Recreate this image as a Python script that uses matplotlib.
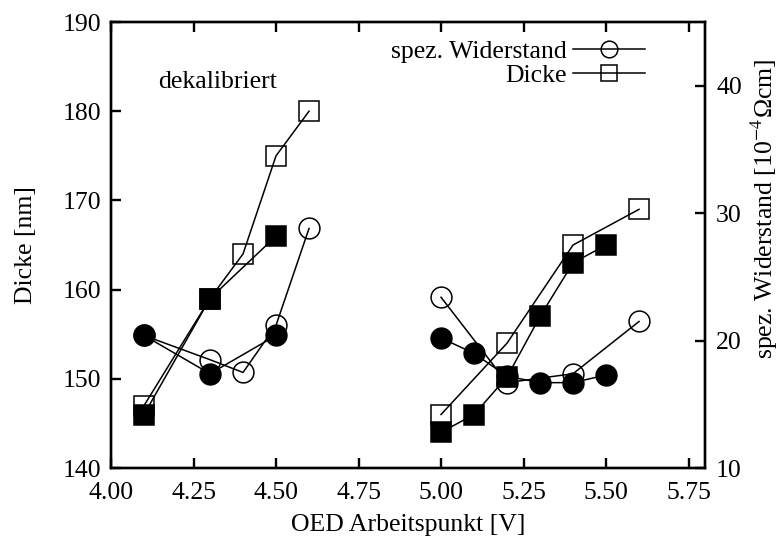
import numpy as np
import matplotlib
matplotlib.use("Agg")
import matplotlib.pyplot as plt
from matplotlib.lines import Line2D

plt.rcParams['font.family'] = ['Liberation Serif', 'DejaVu Serif']
plt.rcParams['mathtext.fontset'] = 'stix'
plt.rcParams['font.size'] = 18.5

# linke Messreihe (dekalibriert)
u_a_open = [4.1, 4.3, 4.4, 4.5, 4.6]
dicke_a_open = [147, 159, 164, 175, 180]
rho_a_open = [20.4, 18.5, 17.5, 21.2, 28.8]

u_a_fill = [4.1, 4.3, 4.5]
dicke_a_fill = [146, 159, 166]
rho_a_fill = [20.4, 17.4, 20.4]

# rechte Messreihe
u_b_open = [5.0, 5.2, 5.4, 5.6]
dicke_b_open = [146, 154, 165, 169]
rho_b_open = [23.4, 16.7, 17.4, 21.5]

u_b_fill = [5.0, 5.1, 5.2, 5.3, 5.4, 5.5]
dicke_b_fill = [144, 146, 150.2, 157, 163, 165]
rho_b_fill = [20.2, 19.0, 17.2, 16.7, 16.7, 17.3]

xticks = [4.00, 4.25, 4.50, 4.75, 5.00, 5.25, 5.50, 5.75]

fig = plt.figure(figsize=(7.84, 5.49), dpi=100)
ax = fig.add_axes([0.1416, 0.1475, 0.7577, 0.8124])
ax2 = ax.twinx()

lw = 1.1
ms = 15
mew = 1.1

# Dicke (linke Achse)
for u, d, fc in [(u_a_open, dicke_a_open, 'none'), (u_a_fill, dicke_a_fill, 'k'),
                 (u_b_open, dicke_b_open, 'none'), (u_b_fill, dicke_b_fill, 'k')]:
    ax.plot(u, d, '-', color='k', lw=lw, marker='s', ms=ms, mfc=fc, mec='k', mew=mew)

# spez. Widerstand (rechte Achse)
for u, r, fc in [(u_a_open, rho_a_open, 'none'), (u_a_fill, rho_a_fill, 'k'),
                 (u_b_open, rho_b_open, 'none'), (u_b_fill, rho_b_fill, 'k')]:
    ax2.plot(u, r, '-', color='k', lw=lw, marker='o', ms=ms, mfc=fc, mec='k', mew=mew)

ax.set_xlim(4.0, 5.8)
ax.set_ylim(140, 190)
ax2.set_ylim(10, 45)
ax.set_xticks(xticks)
ax.set_xticklabels(['%.2f' % t for t in xticks])
ax.set_yticks(np.arange(140, 191, 10))
ax2.set_yticks([10, 20, 30, 40])

for a in (ax, ax2):
    for s in a.spines.values():
        s.set_linewidth(1.7)
ax.tick_params(axis='x', direction='in', length=7, width=1.7, top=True, pad=10)
ax.tick_params(axis='y', direction='in', length=7, width=1.7, right=False, pad=7)
ax2.tick_params(direction='in', length=7, width=1.7, pad=8)

ax.set_xlabel('OED Arbeitspunkt [V]', labelpad=7)
ax.set_ylabel('Dicke [nm]')
ax.yaxis.set_label_coords(-0.125, 0.5)
ax2.set_ylabel('spez. Widerstand [10$^{-4}$Ωcm]', rotation=90)
ax2.yaxis.set_label_coords(1.074, 0.58)

ax.text(4.143, 183.3, 'dekalibriert', ha='left', va='center')

handles = [Line2D([], [], color='k', lw=lw, marker='o', ms=ms, mfc='none', mec='k', mew=mew),
           Line2D([], [], color='k', lw=lw, marker='s', ms=ms, mfc='none', mec='k', mew=mew)]
ax2.legend(handles, ['spez. Widerstand', 'Dicke'], loc='upper right', frameon=False,
           bbox_to_anchor=(0.929, 1.0), markerfirst=False, handlelength=2.8,
           markerscale=0.8, labelspacing=0.05, borderaxespad=0.3, handletextpad=0.25)

fig.savefig('out.png', dpi=100)
